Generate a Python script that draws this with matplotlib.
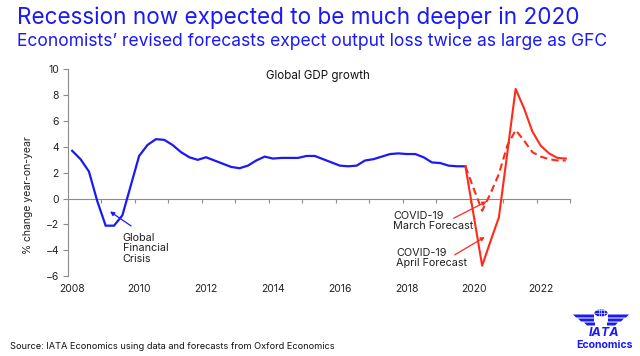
import matplotlib
matplotlib.use('Agg')
from matplotlib import pyplot as plt
from matplotlib.patches import Circle, Polygon

plt.rcParams['font.family'] = ['Inter', 'DejaVu Sans']

BLUE = '#1a1af5'
RED = '#ff2a1a'
GREY = '#8c8c8c'

# quarterly data, 2008Q1 .. 2022Q4
start_year = 2008
actual = [3.7, 3.05, 2.1, -0.2,
          -2.1, -2.1, -1.3, 1.0,
          3.3, 4.15, 4.6, 4.55,
          4.15, 3.6, 3.2, 3.0,
          3.2, 2.95, 2.7, 2.45,
          2.35, 2.55, 2.95, 3.25,
          3.1, 3.15, 3.15, 3.15,
          3.3, 3.3, 3.05, 2.8,
          2.55, 2.5, 2.55, 2.95,
          3.05, 3.25, 3.45, 3.5,
          3.45, 3.45, 3.2, 2.8,
          2.75, 2.55, 2.5, 2.5]
# forecasts start from the last actual quarter (2019Q4)
april_fc = [2.5, -1.35, -5.2, -3.3, -1.45, 3.5, 8.5, 7.0, 5.2, 4.1, 3.5, 3.15, 3.1]
march_fc = [2.5, 0.75, -0.95, 0.4, 1.9, 4.1, 5.3, 4.5, 3.6, 3.25, 3.05, 2.95, 2.95]

year_labels = [2008, 2010, 2012, 2014, 2016, 2018, 2020, 2022]
y_ticks = [-6, -4, -2, 0, 2, 4, 6, 8, 10]

x_act = [start_year + 0.25 * i for i in range(len(actual))]
n0 = len(actual) - 1
x_fc = [start_year + 0.25 * (n0 + i) for i in range(len(april_fc))]

fig = plt.figure(figsize=(6.4, 3.56), dpi=100)
ax = fig.add_axes([0.10625, 0.2247, 0.784375, 0.5801])

ax.plot(x_act, actual, color=BLUE, lw=1.6, solid_joinstyle='miter')
ax.plot(x_fc, april_fc, color=RED, lw=1.5)
ax.plot(x_fc, march_fc, color=RED, lw=1.5, ls=(0, (3.5, 2)))

ax.set_xlim(2007.875, 2022.875)
ax.set_ylim(-6, 10)
ax.set_yticks(y_ticks)
ax.set_xticks(year_labels)

for s in ['top', 'right', 'bottom']:
    ax.spines[s].set_visible(False)
ax.spines['left'].set_color(GREY)
ax.tick_params(axis='y', direction='out', length=3.5, width=0.8, color=GREY,
               labelsize=7.5, labelcolor='#222222', pad=3)
ax.tick_params(axis='x', length=0, labelsize=7.5, labelcolor='#222222', pad=6)

# zero line carrying the year tick marks
zero_ax = ax.secondary_xaxis(0, transform=ax.transData)
zero_ax.spines['bottom'].set_color(GREY)
zero_ax.set_xticks([y - 0.125 for y in range(2009, 2024)])
zero_ax.set_xticklabels([])
zero_ax.tick_params(direction='out', length=3, width=0.8, color=GREY)

ax.set_ylabel('% change year-on-year', fontsize=7.5, color='#222222')
ax.yaxis.set_label_coords(-0.07, 0.39)

ax.text(2015.35, 9.25, 'Global GDP growth', ha='center', va='baseline',
        fontsize=8.3, color='#111111')

# annotations
arrow_kw = dict(arrowstyle='-|>', lw=0.9, mutation_scale=6, shrinkA=0, shrinkB=0)
ax.annotate('', xy=(2009.13, -1.0), xytext=(2009.76, -2.12),
            arrowprops=dict(color=BLUE, **arrow_kw))
ax.text(2009.51, -2.65, 'Global\nFinancial\nCrisis', ha='left', va='top',
        fontsize=7.8, color='#222222', linespacing=1.05)

ax.annotate('', xy=(2020.38, -0.23), xytext=(2019.40, -1.52),
            arrowprops=dict(color=RED, **arrow_kw))
ax.text(2017.59, -0.95, 'COVID-19\nMarch Forecast', ha='left', va='top',
        fontsize=7.8, color='#222222', linespacing=1.05)

ax.annotate('', xy=(2020.33, -2.98), xytext=(2019.43, -4.36),
            arrowprops=dict(color=RED, **arrow_kw))
ax.text(2017.69, -3.8, 'COVID-19\nApril Forecast', ha='left', va='top',
        fontsize=7.8, color='#222222', linespacing=1.05)

# headings
fig.text(0.026, 0.9326, 'Recession now expected to be much deeper in 2020',
         fontsize=16.2, color=BLUE, va='baseline')
fig.text(0.026, 0.8716, 'Economists\u2019 revised forecasts expect output loss twice as large as GFC',
         fontsize=12.6, color=BLUE, va='baseline')
fig.text(0.0156, 0.0197, 'Source: IATA Economics using data and forecasts from Oxford Economics',
         fontsize=6.65, color='#111111', va='baseline')

# IATA logo (bottom right)
W, H = 640.0, 356.0
def fx(px):
    return px / W
def fy(py):
    return 1 - py / H

globe = Circle((fx(601), fy(313)), 6.5 / W, transform=fig.transFigure,
               facecolor=BLUE, edgecolor='none')
fig.patches.append(globe)
for dy in (-3, 0, 3):
    fig.lines.append(plt.Line2D([fx(595), fx(607)], [fy(313 + dy)] * 2,
                                transform=fig.transFigure, color='white', lw=0.4))
for dx in (-2.5, 0, 2.5):
    fig.lines.append(plt.Line2D([fx(601 + dx)] * 2, [fy(307), fy(319)],
                                transform=fig.transFigure, color='white', lw=0.4))
for side in (-1, 1):
    for y0, x_in, x_out in [(314.5, 594, 573), (318.5, 594, 578), (322.5, 595, 584)]:
        xi = 601 + side * (601 - x_in)
        xo = 601 + side * (601 - x_out)
        pts = [(fx(xi), fy(y0)), (fx(xo), fy(y0)), (fx(xo + side * (-3)), fy(y0 + 3)),
               (fx(xi), fy(y0 + 3))]
        fig.patches.append(Polygon(pts, closed=True, transform=fig.transFigure,
                                   facecolor=BLUE, edgecolor='none'))
fig.text(fx(604), fy(335.5), 'IATA', ha='center', va='baseline', fontsize=9,
         fontweight='bold', fontstyle='italic', color=BLUE)
fig.text(fx(604.5), fy(348), 'Economics', ha='center', va='baseline', fontsize=7.6,
         fontweight='bold', color=BLUE)

fig.savefig('out.png', dpi=100)
